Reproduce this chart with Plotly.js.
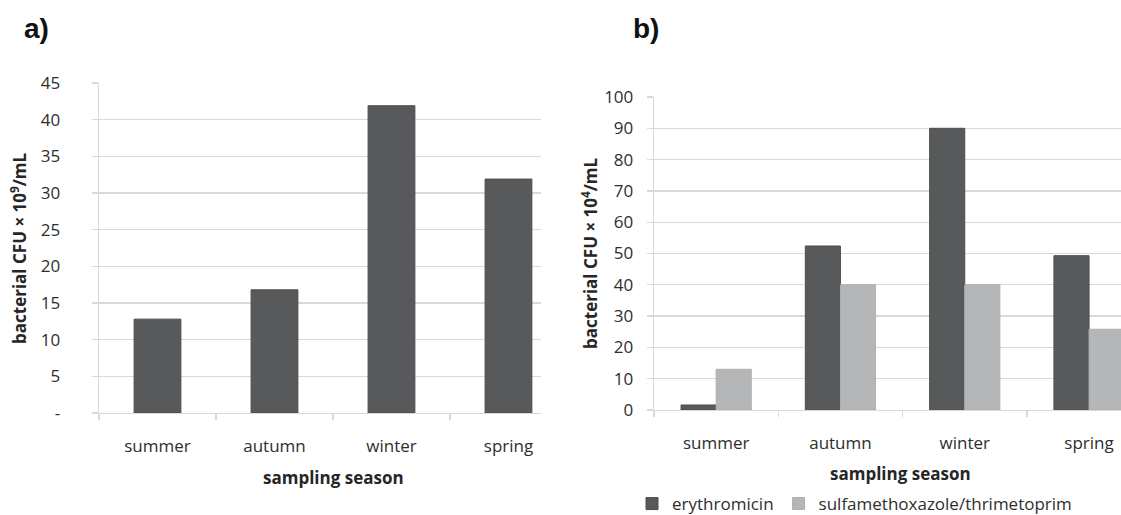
<!DOCTYPE html>
<html>
<head>
<meta charset="utf-8">
<script src="https://cdn.plot.ly/plotly-3.0.1.min.js"></script>
<style>
html,body{margin:0;padding:0;background:#fff;}
#chart{width:1121px;height:515px;}
</style>
</head>
<body>
<div id="chart"></div>
<script>
// ---- data ----
var seasons = ["summer", "autumn", "winter", "spring"];
var totalCFU = [12.8, 16.8, 41.9, 31.9];              // panel a, x10^9/mL
var erythromicin = [1.6, 52.4, 90, 49.3];             // panel b, x10^4/mL
var sulfaTrim = [13.0, 40, 40, 25.8];                 // panel b, x10^4/mL
var aTickVals = [0, 5, 10, 15, 20, 25, 30, 35, 40, 45];
var aTickText = ["-", "5", "10", "15", "20", "25", "30", "35", "40", "45"];
var bTickVals = [0, 10, 20, 30, 40, 50, 60, 70, 80, 90, 100];
var seriesNames = ["erythromicin", "sulfamethoxazole/thrimetoprim"];

var W = 1121, H = 515;
var dark = "#58595b", light = "#b5b6b8", grid = "#d9d9d9";
var txt = "#2e2e2e";
var fontFam = "'Open Sans', 'DejaVu Sans', sans-serif";
function px(x){ return x / W; }
function py(y){ return 1 - y / H; }

var traces = [
  {type: "bar", x: seasons, y: totalCFU, xaxis: "x", yaxis: "y", width: 0.40,
   marker: {color: dark, line: {color: "#4d4e50", width: 1}}, showlegend: false, hoverinfo: "x+y"},
  {type: "bar", x: seasons, y: erythromicin, xaxis: "x2", yaxis: "y2", name: seriesNames[0],
   marker: {color: dark, line: {color: "#4d4e50", width: 1}}},
  {type: "bar", x: seasons, y: sulfaTrim, xaxis: "x2", yaxis: "y2", name: seriesNames[1],
   marker: {color: light, line: {color: "#aeafb1", width: 1}}}
];

var xCommon = {
  type: "category", showgrid: false, showline: true, linecolor: grid, linewidth: 1.3,
  ticks: "outside", tickson: "boundaries", ticklen: 6, tickcolor: grid, tickwidth: 1.3,
  tickfont: {family: fontFam, size: 17, color: txt},
  fixedrange: true
};
var yCommon = {
  showgrid: true, gridcolor: grid, gridwidth: 1.3, showline: true, linecolor: grid, linewidth: 1.3,
  ticks: "outside", ticklen: 6, tickcolor: grid, tickwidth: 1.3, zeroline: false,
  tickfont: {family: fontFam, size: 17, color: txt}, tickmode: "array", fixedrange: true
};

var layout = {
  width: W, height: H,
  margin: {l: 0, r: 0, t: 0, b: 0, autoexpand: false},
  paper_bgcolor: "#fff", plot_bgcolor: "#fff",
  barmode: "group", bargap: 0.435, bargroupgap: 0,
  font: {family: fontFam, color: txt},
  xaxis: Object.assign({}, xCommon, {domain: [px(99), px(541)], range: [-0.5, 3.278], anchor: "y", ticklabelstandoff: 17}),
  yaxis: Object.assign({}, yCommon, {domain: [py(413), py(83)], range: [0, 45], anchor: "x",
          tickvals: aTickVals, ticktext: aTickText, ticklabelstandoff: 28}),
  xaxis2: Object.assign({}, xCommon, {domain: [px(654), 1], range: [-0.5, 3.257], anchor: "y2", ticklabelstandoff: 17}),
  yaxis2: Object.assign({}, yCommon, {domain: [py(410), py(97)], range: [0, 100], anchor: "x2",
          tickvals: bTickVals, ticklabelstandoff: 10}),
  showlegend: true,
  legend: {orientation: "h", x: px(632), xanchor: "left", y: py(504), yanchor: "middle",
           bgcolor: "rgba(0,0,0,0)", borderwidth: 0, tracegroupgap: 0,
           font: {family: fontFam, size: 17, color: txt}},
  annotations: [
    {text: "a)", xref: "paper", yref: "paper", x: px(36), y: py(28), xanchor: "center", yanchor: "middle",
     showarrow: false, font: {family: "'Liberation Sans Narrow', 'Liberation Sans', Arial, sans-serif", size: 28, color: "#111", weight: "bold"}},
    {text: "b)", xref: "paper", yref: "paper", x: px(646), y: py(28), xanchor: "center", yanchor: "middle",
     showarrow: false, font: {family: "'Liberation Sans Narrow', 'Liberation Sans', Arial, sans-serif", size: 28, color: "#111", weight: "bold"}},
    {text: "<b>sampling season</b>", xref: "paper", yref: "paper", x: px(333), y: py(477), xanchor: "center", yanchor: "middle",
     showarrow: false, font: {family: fontFam, size: 17, color: "#262626"}},
    {text: "<b>sampling season</b>", xref: "paper", yref: "paper", x: px(900), y: py(473), xanchor: "center", yanchor: "middle",
     showarrow: false, font: {family: fontFam, size: 17, color: "#262626"}},
    {text: "<b>bacterial CFU × 10<sup>9</sup>/mL</b>", xref: "paper", yref: "paper", x: px(18), y: py(248), xanchor: "center", yanchor: "middle",
     textangle: -90, showarrow: false, font: {family: fontFam, size: 17, color: "#262626"}},
    {text: "<b>bacterial CFU × 10<sup>4</sup>/mL</b>", xref: "paper", yref: "paper", x: px(589), y: py(253), xanchor: "center", yanchor: "middle",
     textangle: -90, showarrow: false, font: {family: fontFam, size: 17, color: "#262626"}}
  ]
};

Plotly.newPlot("chart", traces, layout, {displayModeBar: false, staticPlot: true});
</script>
</body>
</html>
